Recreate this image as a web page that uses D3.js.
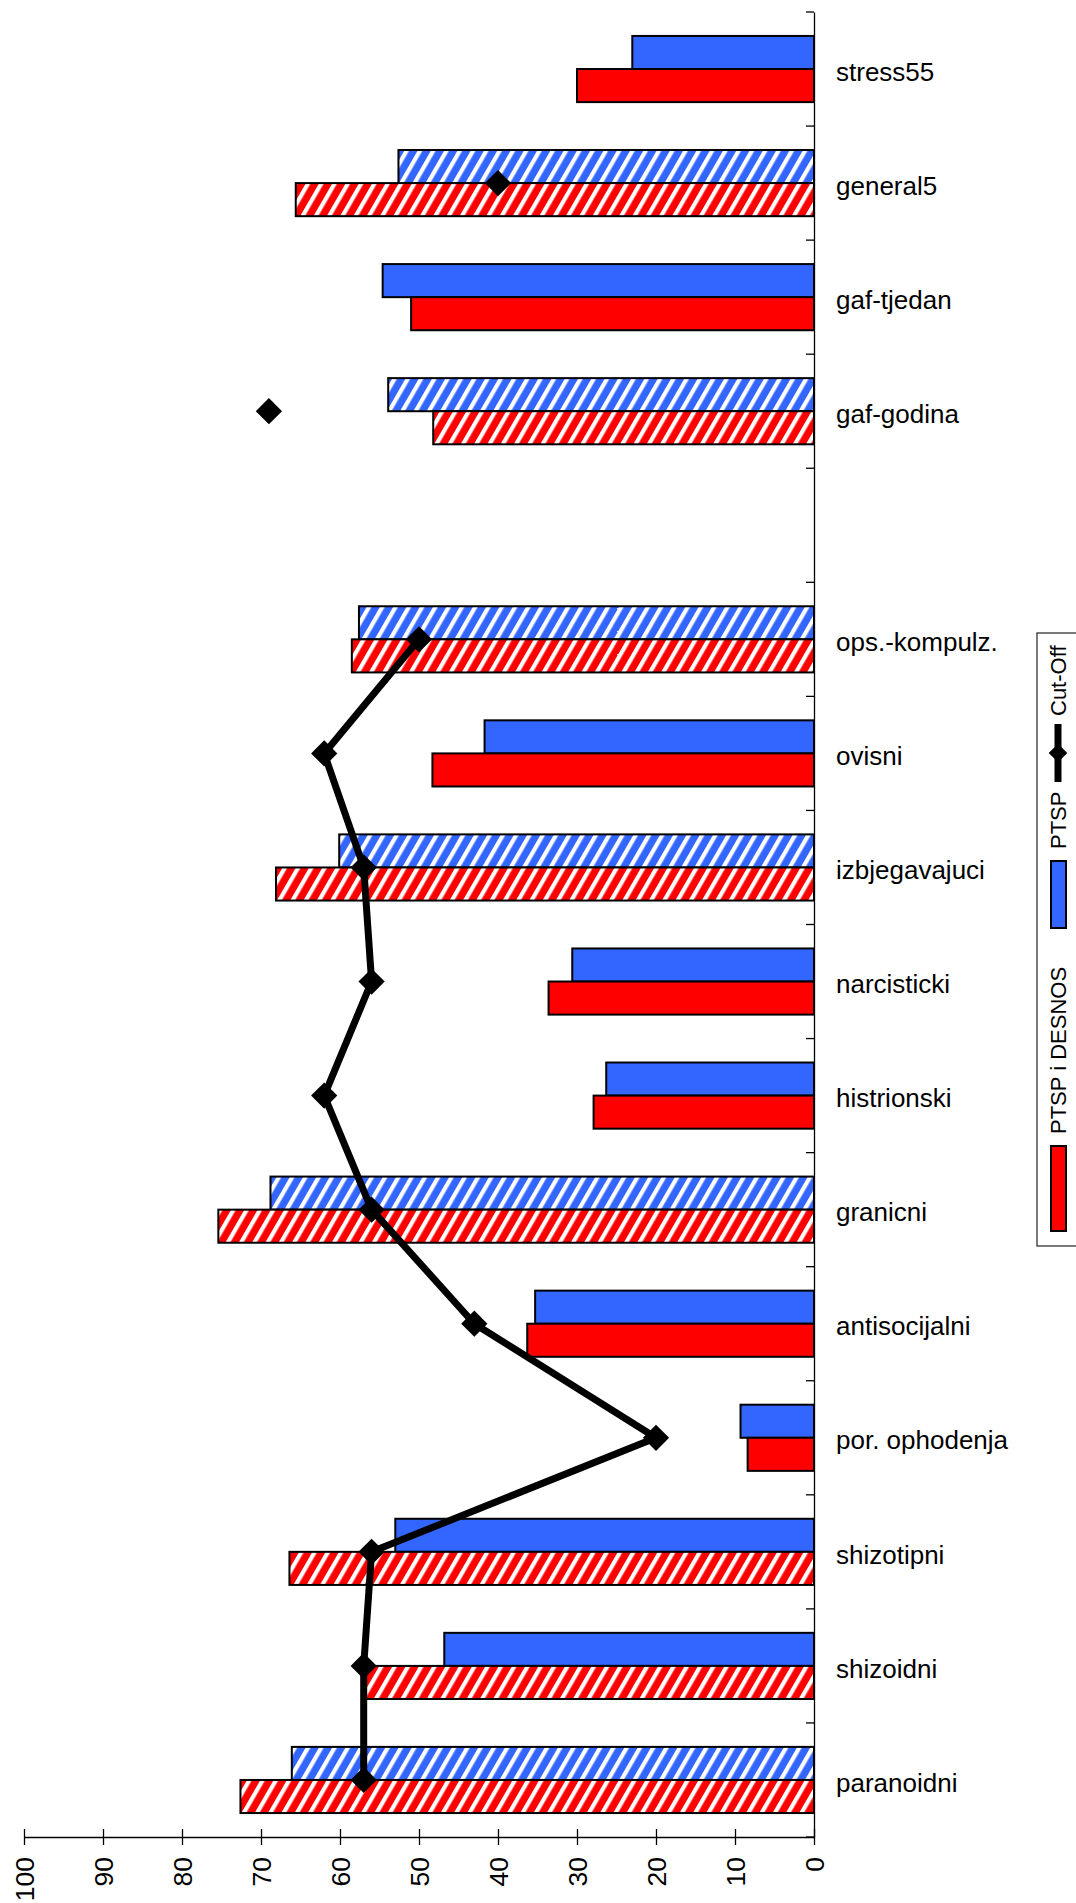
<!DOCTYPE html>
<html>
  <head>
    <meta charset="utf-8">
    <title></title>
  </head>

  <body>
  <style media="screen">
    body{
      margin:0;
      background:#fff;
    }
    svg text{
      font-family:"Liberation Sans", Arial, sans-serif;
      fill:#000;
    }
    .bar{
      stroke:#000;
      stroke-width:2;
    }
  </style>

<svg id="chart1" width="1076" height="1903"></svg>

    <script src="https://d3js.org/d3.v7.min.js"></script>
    <script type="text/javascript">
    // categories from top to bottom, "" is the empty slot
    var categories = ["stress55","general5","gaf-tjedan","gaf-godina","",
      "ops.-kompulz.","ovisni","izbjegavajuci","narcisticki","histrionski",
      "granicni","antisocijalni","por. ophodenja","shizotipni","shizoidni","paranoidni"];

    var ptsp   = [23.0, 52.6, 54.6, 53.9, null, 57.6, 41.7, 60.1, 30.6, 26.3, 68.8, 35.3, 9.3, 53.0, 46.8, 66.1];
    var desnos = [30.0, 65.6, 51.0, 48.2, null, 58.5, 48.3, 68.1, 33.6, 27.9, 75.4, 36.3, 8.4, 66.4, 56.8, 72.6];
    var cutOff = [null, 40, null, 69, null, 50, 62, 57, 56, 62, 56, 43, 20, 56, 57, 57];

    // which bars are drawn hatched
    var hatchedPtsp   = ["general5","gaf-godina","ops.-kompulz.","izbjegavajuci","granicni","paranoidni"];
    var hatchedDesnos = ["general5","gaf-godina","ops.-kompulz.","izbjegavajuci","granicni","shizotipni","shizoidni","paranoidni"];

    var valueTicks = [0,10,20,30,40,50,60,70,80,90,100];
    var seriesNames = ["PTSP i DESNOS","PTSP","Cut-Off"];

    var blue = '#3366ff', red = '#ff0000';

    var svg = d3.select('#chart1');

    var x = d3.scaleLinear().domain([0,100]).range([814, 24]);
    var y = d3.scaleBand().domain(categories).range([12, 1837]).padding(0);

    var barH = y.bandwidth()*0.29;

    // hatch patterns
    var defs = svg.append('defs');
    [['hatch-blue', blue], ['hatch-red', red]].forEach(function(p){
      var pat = defs.append('pattern')
        .attr('id', p[0])
        .attr('patternUnits','userSpaceOnUse')
        .attr('width', 11.5).attr('height', 11.5)
        .attr('patternTransform','rotate(30)');
      pat.append('rect').attr('width',11.5).attr('height',11.5).attr('fill',p[1]);
      pat.append('rect').attr('x',0).attr('width',4.2).attr('height',11.5).attr('fill','#fff');
    });

    var rows = categories.map(function(c,i){
      return {cat:c, ptsp:ptsp[i], desnos:desnos[i], cut:cutOff[i]};
    });

    // PTSP bars (upper)
    svg.append('g').selectAll('rect')
      .data(rows.filter(d=>d.ptsp!=null))
      .enter().append('rect')
        .attr('class','bar')
        .attr('x', d=>x(d.ptsp))
        .attr('y', d=>y(d.cat)+y.bandwidth()/2-barH)
        .attr('width', d=>x(0)-x(d.ptsp))
        .attr('height', barH)
        .attr('fill', d=> hatchedPtsp.indexOf(d.cat)>=0 ? 'url(#hatch-blue)' : blue);

    // PTSP i DESNOS bars (lower)
    svg.append('g').selectAll('rect')
      .data(rows.filter(d=>d.desnos!=null))
      .enter().append('rect')
        .attr('class','bar')
        .attr('x', d=>x(d.desnos))
        .attr('y', d=>y(d.cat)+y.bandwidth()/2)
        .attr('width', d=>x(0)-x(d.desnos))
        .attr('height', barH)
        .attr('fill', d=> hatchedDesnos.indexOf(d.cat)>=0 ? 'url(#hatch-red)' : red);

    // cut-off line
    var line = d3.line()
      .defined(d=>d.cut!=null)
      .x(d=>x(d.cut))
      .y(d=>y(d.cat)+y.bandwidth()/2);

    svg.append('path')
      .datum(rows)
      .attr('d', line)
      .attr('fill','none')
      .attr('stroke','#000')
      .attr('stroke-width',7)
      .attr('stroke-linejoin','round');

    var diamond = d3.symbol().type(d3.symbolDiamond2).size(440);
    svg.append('g').selectAll('path')
      .data(rows.filter(d=>d.cut!=null))
      .enter().append('path')
        .attr('d', diamond)
        .attr('transform', d=>'translate('+x(d.cut)+','+(y(d.cat)+y.bandwidth()/2)+')')
        .attr('fill','#000');

    // value axis
    var xAxis = svg.append('g')
      .attr('transform','translate(0,1837)')
      .call(d3.axisBottom(x).tickValues(valueTicks).tickSizeOuter(0).tickSizeInner(8).tickFormat(d3.format('d')));
    xAxis.select('.domain').attr('stroke','#000').attr('stroke-width',1.3);
    xAxis.selectAll('.tick line').attr('y1',-8).attr('y2',8).attr('stroke','#000').attr('stroke-width',1.3);
    xAxis.selectAll('.tick text')
      .attr('font-size',26.5)
      .attr('text-anchor','end')
      .attr('transform','translate(0,20) rotate(-90)')
      .attr('x',0).attr('y',0).attr('dy','0.36em');

    // category axis
    var yAxis = svg.append('g')
      .attr('transform','translate(814,0)')
      .call(d3.axisRight(y).tickSize(0).tickPadding(22));
    yAxis.select('.domain').attr('stroke','#000').attr('stroke-width',1.3);
    yAxis.selectAll('.tick text').attr('font-size',26).attr('dy','0.45em');

    var bounds = d3.range(categories.length+1).map(i=>y.range()[0]+i*y.step());
    svg.append('g').selectAll('line')
      .data(bounds)
      .enter().append('line')
        .attr('x1',806).attr('x2',814)
        .attr('y1',d=>d).attr('y2',d=>d)
        .attr('stroke','#000').attr('stroke-width',1.3);

    // legend (rotated)
    var lg = svg.append('g');
    lg.append('rect')
      .attr('x',1037).attr('y',633).attr('width',60).attr('height',613)
      .attr('fill','#fff').attr('stroke','#333').attr('stroke-width',1.3);

    lg.append('rect').attr('x',1051).attr('y',1146).attr('width',15).attr('height',85)
      .attr('fill',red).attr('stroke','#000').attr('stroke-width',2);
    lg.append('text').attr('transform','translate(1058,1134) rotate(-90)')
      .attr('font-size',22).attr('dy','0.36em').text(seriesNames[0]);

    lg.append('rect').attr('x',1051).attr('y',861).attr('width',15).attr('height',67)
      .attr('fill',blue).attr('stroke','#000').attr('stroke-width',2);
    lg.append('text').attr('transform','translate(1058,849) rotate(-90)')
      .attr('font-size',22).attr('dy','0.36em').text(seriesNames[1]);

    lg.append('line').attr('x1',1058).attr('x2',1058).attr('y1',724).attr('y2',782)
      .attr('stroke','#000').attr('stroke-width',7);
    lg.append('path').attr('d', d3.symbol().type(d3.symbolDiamond2).size(220))
      .attr('transform','translate(1058,753)').attr('fill','#000');
    lg.append('text').attr('transform','translate(1058,716) rotate(-90)')
      .attr('font-size',22).attr('dy','0.36em').text(seriesNames[2]);
    </script>

  </body>
</html>
